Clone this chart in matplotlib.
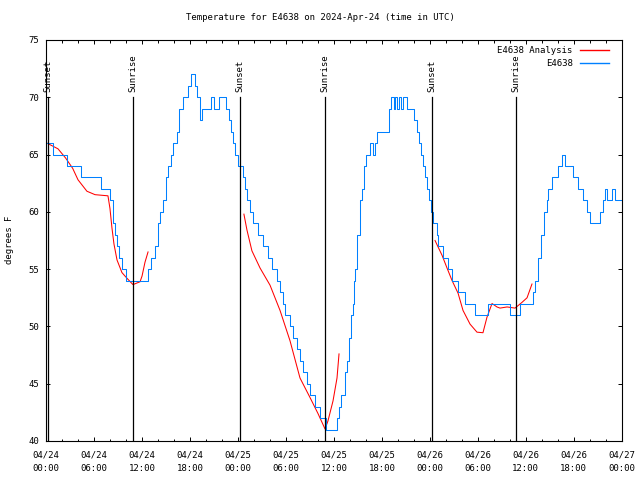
import matplotlib
matplotlib.use("Agg")
import matplotlib.pyplot as plt
import matplotlib.dates as mdates
import numpy as np

plt.rcParams['font.family'] = ['DejaVu Sans Mono']
plt.rcParams['font.size'] = 6.5

start = np.datetime64('2024-04-24T00:00')

# observed temperature (hours after start, deg F)
obs_hours = [0, 0.84, 2.59, 4.34, 6.85, 7.97, 8.35, 8.6, 8.85, 9.1, 9.47, 9.97,
             12.73, 13.11, 13.61, 13.98, 14.23, 14.61, 14.98, 15.23, 15.61, 15.86,
             16.36, 16.61, 17.11, 17.73, 18.11, 18.61, 18.86, 19.24, 19.49, 20.61,
             20.99, 21.62, 22.49, 22.87, 23.12, 23.37, 23.62, 24.0, 24.62, 24.87,
             25.12, 25.49, 25.87, 26.5, 27.12, 27.75, 28.25, 28.87, 29.25, 29.62,
             29.87, 30.5, 30.87, 31.37, 31.75, 32.12, 32.62, 33.0, 33.63, 34.25,
             35.0, 36.38, 36.63, 36.88, 37.38, 37.63, 37.88, 38.13, 38.38, 38.51,
             38.63, 38.88, 39.26, 39.51, 39.76, 40.01, 40.51, 40.89, 41.14, 41.39,
             42.89, 43.14, 43.52, 43.64, 43.89, 44.14, 44.39, 44.64, 45.14, 46.02,
             46.4, 46.65, 46.9, 47.15, 47.4, 47.65, 47.9, 48.15, 48.4, 48.9, 49.02,
             49.65, 50.28, 50.78, 51.53, 52.4, 53.65, 55.28, 58.04, 59.29, 60.91,
             61.16, 61.54, 61.91, 62.29, 62.67, 62.79, 63.29, 64.04, 64.54, 64.92,
             65.92, 66.55, 67.17, 67.67, 68.05, 69.3, 69.67, 69.92, 70.17, 70.8,
             71.17, 72]
obs_temp = [66, 65, 64, 63, 62, 61, 59, 58, 57, 56, 55, 54,
            55, 56, 57, 59, 60, 61, 63, 64, 65, 66,
            67, 69, 70, 71, 72, 71, 70, 68, 69, 70,
            69, 70, 69, 68, 67, 66, 65, 64, 63, 62,
            61, 60, 59, 58, 57, 56, 55, 54, 53, 52,
            51, 50, 49, 48, 47, 46, 45, 44, 43, 42,
            41, 42, 43, 44, 46, 47, 49, 51, 52, 54,
            55, 58, 61, 62, 64, 65, 66, 65, 66, 67,
            69, 70, 69, 70, 69, 70, 69, 70, 69, 68,
            67, 66, 65, 64, 63, 62, 61, 60, 59, 58, 57,
            56, 55, 54, 53, 52, 51, 52, 51, 52, 53,
            54, 56, 58, 60, 61, 62, 63, 64, 65, 64,
            63, 62, 61, 60, 59, 60, 61, 62, 61, 62,
            61, 61]

# analysis segments
ana1_hours = [0.09, 1.46, 2.42, 3.3, 3.97, 5.09, 6.1, 7.72, 7.97, 8.22, 8.47, 8.85,
              9.47, 10.1, 10.85, 11.73, 11.98, 12.35, 12.73]
ana1_temp = [66, 65.5, 64.7, 63.8, 62.8, 61.8, 61.5, 61.4, 60.3, 58.6, 57.2, 55.8,
             54.7, 54.2, 53.65, 53.9, 54.4, 55.6, 56.5]
ana2_hours = [24.74, 25.12, 25.74, 26.75, 28.0, 29.25, 30.5, 31.75, 33.0, 34.0,
              34.88, 35.25, 35.88, 36.38, 36.63]
ana2_temp = [59.8, 58.4, 56.6, 55.1, 53.6, 51.4, 48.75, 45.5, 43.8, 42.4,
             41.05, 41.75, 43.5, 45.5, 47.6]
ana3_hours = [48.65, 49.53, 50.15, 50.78, 51.53, 52.15, 53.03, 53.9, 54.65, 55.15,
              55.78, 56.4, 56.78, 57.66, 58.66, 59.54, 60.16, 60.79]
ana3_temp = [57.5, 56.2, 55.1, 54.0, 52.9, 51.4, 50.2, 49.5, 49.45, 50.8,
             52.0, 51.7, 51.6, 51.7, 51.6, 52.1, 52.5, 53.7]

sun_hours = [0.21, 10.89, 24.24, 34.88, 48.28, 58.79]
sun_labels = ['Sunset', 'Sunrise', 'Sunset', 'Sunrise', 'Sunset', 'Sunrise']


def to_time(hours):
    return start + (np.array(hours) * 60).round().astype('timedelta64[m]')


fig = plt.figure(figsize=(6.4, 4.8), dpi=100)
ax = fig.add_axes([46.3 / 640, 1 - 441 / 480, (621.6 - 46.3) / 640, 401 / 480])

lw = 0.75
first = True
for h, t in [(ana1_hours, ana1_temp), (ana2_hours, ana2_temp), (ana3_hours, ana3_temp)]:
    ax.plot(to_time(h), t, color='#ff0000', lw=lw,
            label='E4638 Analysis' if first else None)
    first = False
ax.plot(to_time(obs_hours), obs_temp, color='#0080ff', lw=lw,
        drawstyle='steps-post', label='E4638')

for h, lab in zip(sun_hours, sun_labels):
    tt = to_time([h])[0]
    ax.plot([tt, tt], [40, 70], color='black', lw=0.9)
    ax.text(tt, 70.45, lab, rotation=90, ha='center', va='bottom', fontsize=6.5)

ax.set_xlim(start, start + np.timedelta64(72, 'h'))
ax.set_ylim(40, 75)
ax.set_yticks(np.arange(40, 76, 5))
ax.xaxis.set_major_locator(mdates.HourLocator(byhour=range(0, 24, 6)))
ax.xaxis.set_minor_locator(mdates.HourLocator(byhour=range(0, 24, 2)))
ax.xaxis.set_major_formatter(mdates.DateFormatter('%m/%d\n%H:%M'))
ax.tick_params(which='both', direction='in', top=True, right=True, width=0.7)
ax.tick_params(which='major', length=3.2, labelsize=6.5)
ax.tick_params(which='minor', length=1.8)
ax.tick_params(axis='x', pad=6.5)
ax.tick_params(axis='y', pad=5)
for lbl in ax.get_xticklabels():
    lbl.set_linespacing(1.7)
for s in ax.spines.values():
    s.set_linewidth(0.8)

leg = ax.legend(loc='upper right', bbox_to_anchor=(0.9837, 0.994), borderaxespad=0,
                frameon=False, markerfirst=False, fontsize=6.5,
                handlelength=3.2, labelspacing=0.45, handletextpad=0.8)
for line in leg.get_lines():
    line.set_linewidth(1.0)

fig.text(0.5, 1 - 18 / 480, 'Temperature for E4638 on 2024-Apr-24 (time in UTC)',
         ha='center', va='center', fontsize=6.5)
fig.text(10 / 640, 0.5, 'degrees F', rotation=90, ha='center', va='center', fontsize=6.5)

fig.savefig('out.png', dpi=100)
